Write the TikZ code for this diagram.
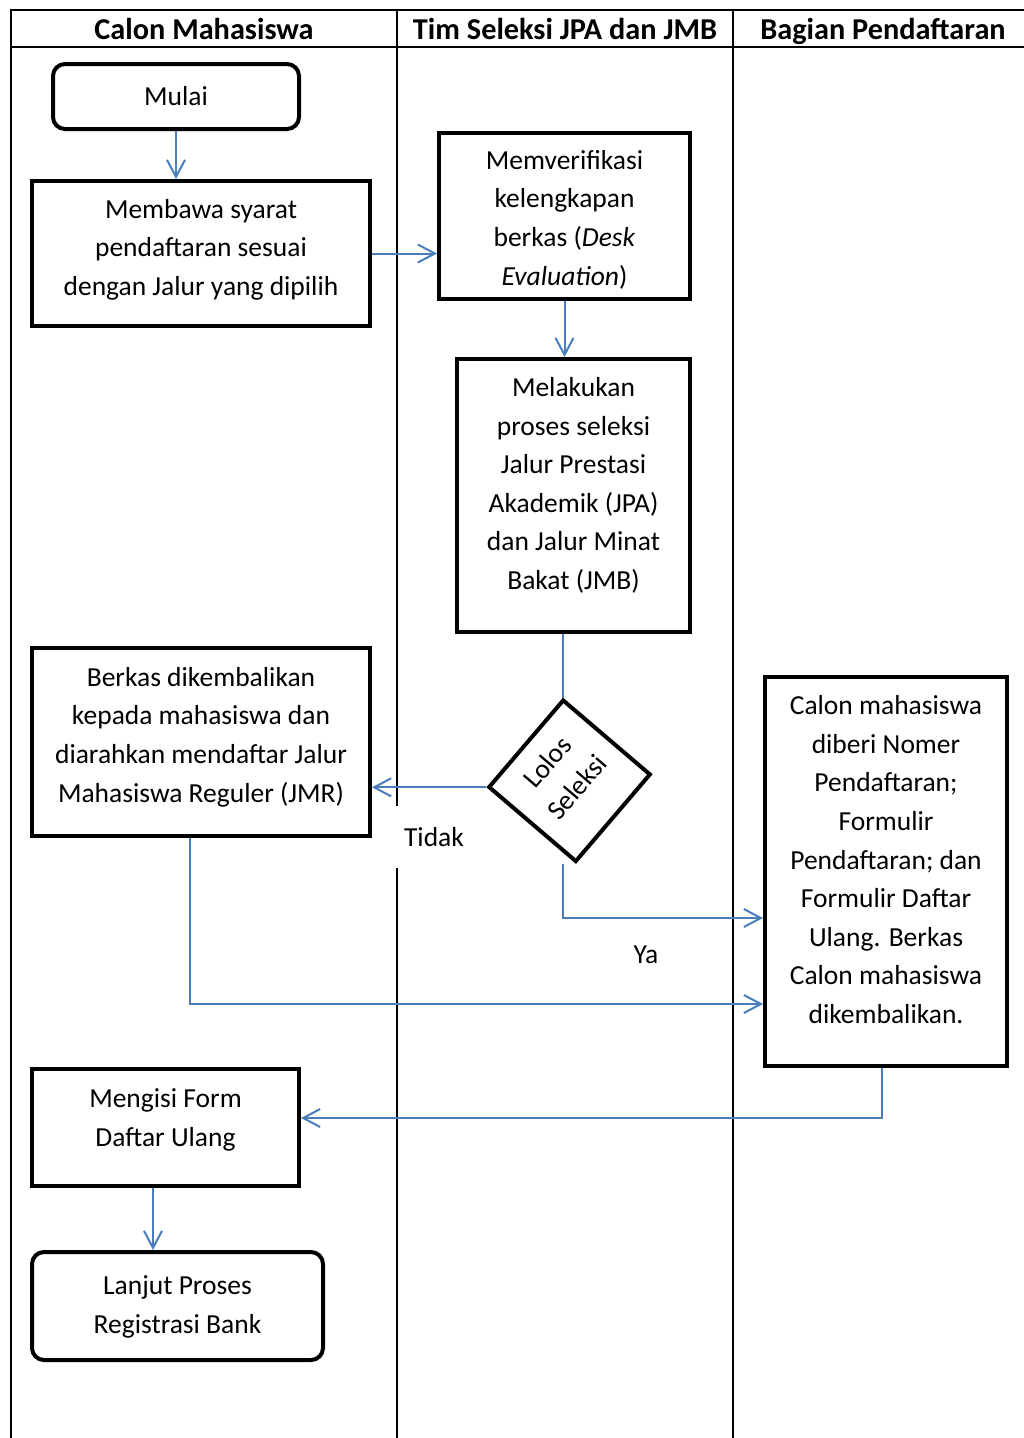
\documentclass[tikz,border=0pt]{standalone}
\usepackage{fontspec}
\setmainfont{Carlito}
\usetikzlibrary{arrows.meta}
\definecolor{lineblue}{HTML}{4A7EBB}

\begin{document}
\begin{tikzpicture}[x=1pt,y=-1pt]
  \tikzset{ bx/.style={draw,line width=4pt,align=center,inner sep=0pt,
      font=\fontsize{27.5}{38.6}\selectfont,text depth=0pt},
    rbx/.style={bx,rounded corners=12pt},
    ln/.style={draw=lineblue,line width=2pt},
    ar/.style={ln,-{Straight Barb[length=17pt,width=18pt]}},
    hd/.style={anchor=base,font=\bfseries\fontsize{30.3}{36}\selectfont},
    lb/.style={font=\fontsize{27.5}{38.6}\selectfont},
  }
  \useasboundingbox (0,0) rectangle (1024,1438);

  % the swimlanes
  \draw[line width=2pt] (11,1440) -- (11,10) -- (1030,10) (11,47) -- (1030,47)
    (397,10) -- (397,1440) (733,10) -- (733,1440);
  \node[hd] (h1) at (204,39) {Calon Mahasiswa};
  \node[hd] (h2) at (565,39) {Tim Seleksi JPA dan JMB};
  \node[hd] (h3) at (883,39) {Bagian Pendaftaran};

  \node[lb,fill=white,minimum height=62pt,inner xsep=20pt] (t) at (434,837) {Tidak};
  \node[lb] (y) at (646,955) {Ya};

  \node[rbx,minimum width=246pt,minimum height=65pt,text height=18pt] (1) at (176,96.5) {Mulai};
  \node[bx,minimum width=338pt,minimum height=145pt,text height=84pt] (2) at (201,253.5)
    {Membawa syarat\\pendaftaran sesuai\\dengan Jalur yang dipilih};
  \node[bx,minimum width=251pt,minimum height=166pt,text height=138pt] (3) at (564.5,216)
    {Memverifikasi\\kelengkapan\\berkas (\textit{Desk}\\\textit{Evaluation})};
  \node[bx,minimum width=233pt,minimum height=273pt,text height=188pt] (4) at (573.5,495.5)
    {Melakukan\\proses seleksi\\Jalur Prestasi\\Akademik (JPA)\\dan Jalur Minat\\Bakat (JMB)};
  \node[bx,minimum size=114pt,rotate=49.5,text height=38pt] (5) at (569.5,780.75) {Lolos\\Seleksi};
  \node[bx,minimum width=338pt,minimum height=188pt,text height=120pt] (6) at (201,742)
    {Berkas dikembalikan\\kepada mahasiswa dan\\diarahkan mendaftar Jalur\\Mahasiswa Reguler (JMR)};
  \node[bx,minimum width=242pt,minimum height=389pt,text height=304pt] (7) at (886,871.5)
    {Calon mahasiswa\\diberi Nomer\\Pendaftaran;\\Formulir\\Pendaftaran; dan\\Formulir Daftar\\Ulang. Berkas\\Calon mahasiswa\\dikembalikan.};
  \node[bx,minimum width=267pt,minimum height=117pt,text height=37pt] (8) at (165.5,1127.5)
    {Mengisi Form\\Daftar Ulang};
  \node[rbx,minimum width=291pt,minimum height=108pt,text height=54pt] (9) at (177.5,1306)
    {Lanjut Proses\\Registrasi Bank};

  % the connection between the boxes
  \draw[ar] (1.south) -- (1.south |- 2.north);
  \draw[ar] (2.east) -- (2.east -| 3.west);
  \draw[ar] (3.south) -- (3.south |- 4.north);
  \draw[ln] (5.north east |- 4.south) -- (5.north east);
  \draw[ar] (5.north west) -- (5.north west -| 6.east);
  \draw[ar] (5.north east |- 5.south west) |- ([yshift=-46.5pt]7.west);
  \draw[ar] ([xshift=-11pt]6.south) |- ([yshift=-132.5pt]7.west);
  \draw[ar] ([xshift=-4pt]7.south) |- ([yshift=9.5pt]8.east);
  \draw[ar] ([xshift=-12.5pt]8.south) -- ([xshift=-12.5pt]8.south |- 9.north);
\end{tikzpicture}
\end{document}
